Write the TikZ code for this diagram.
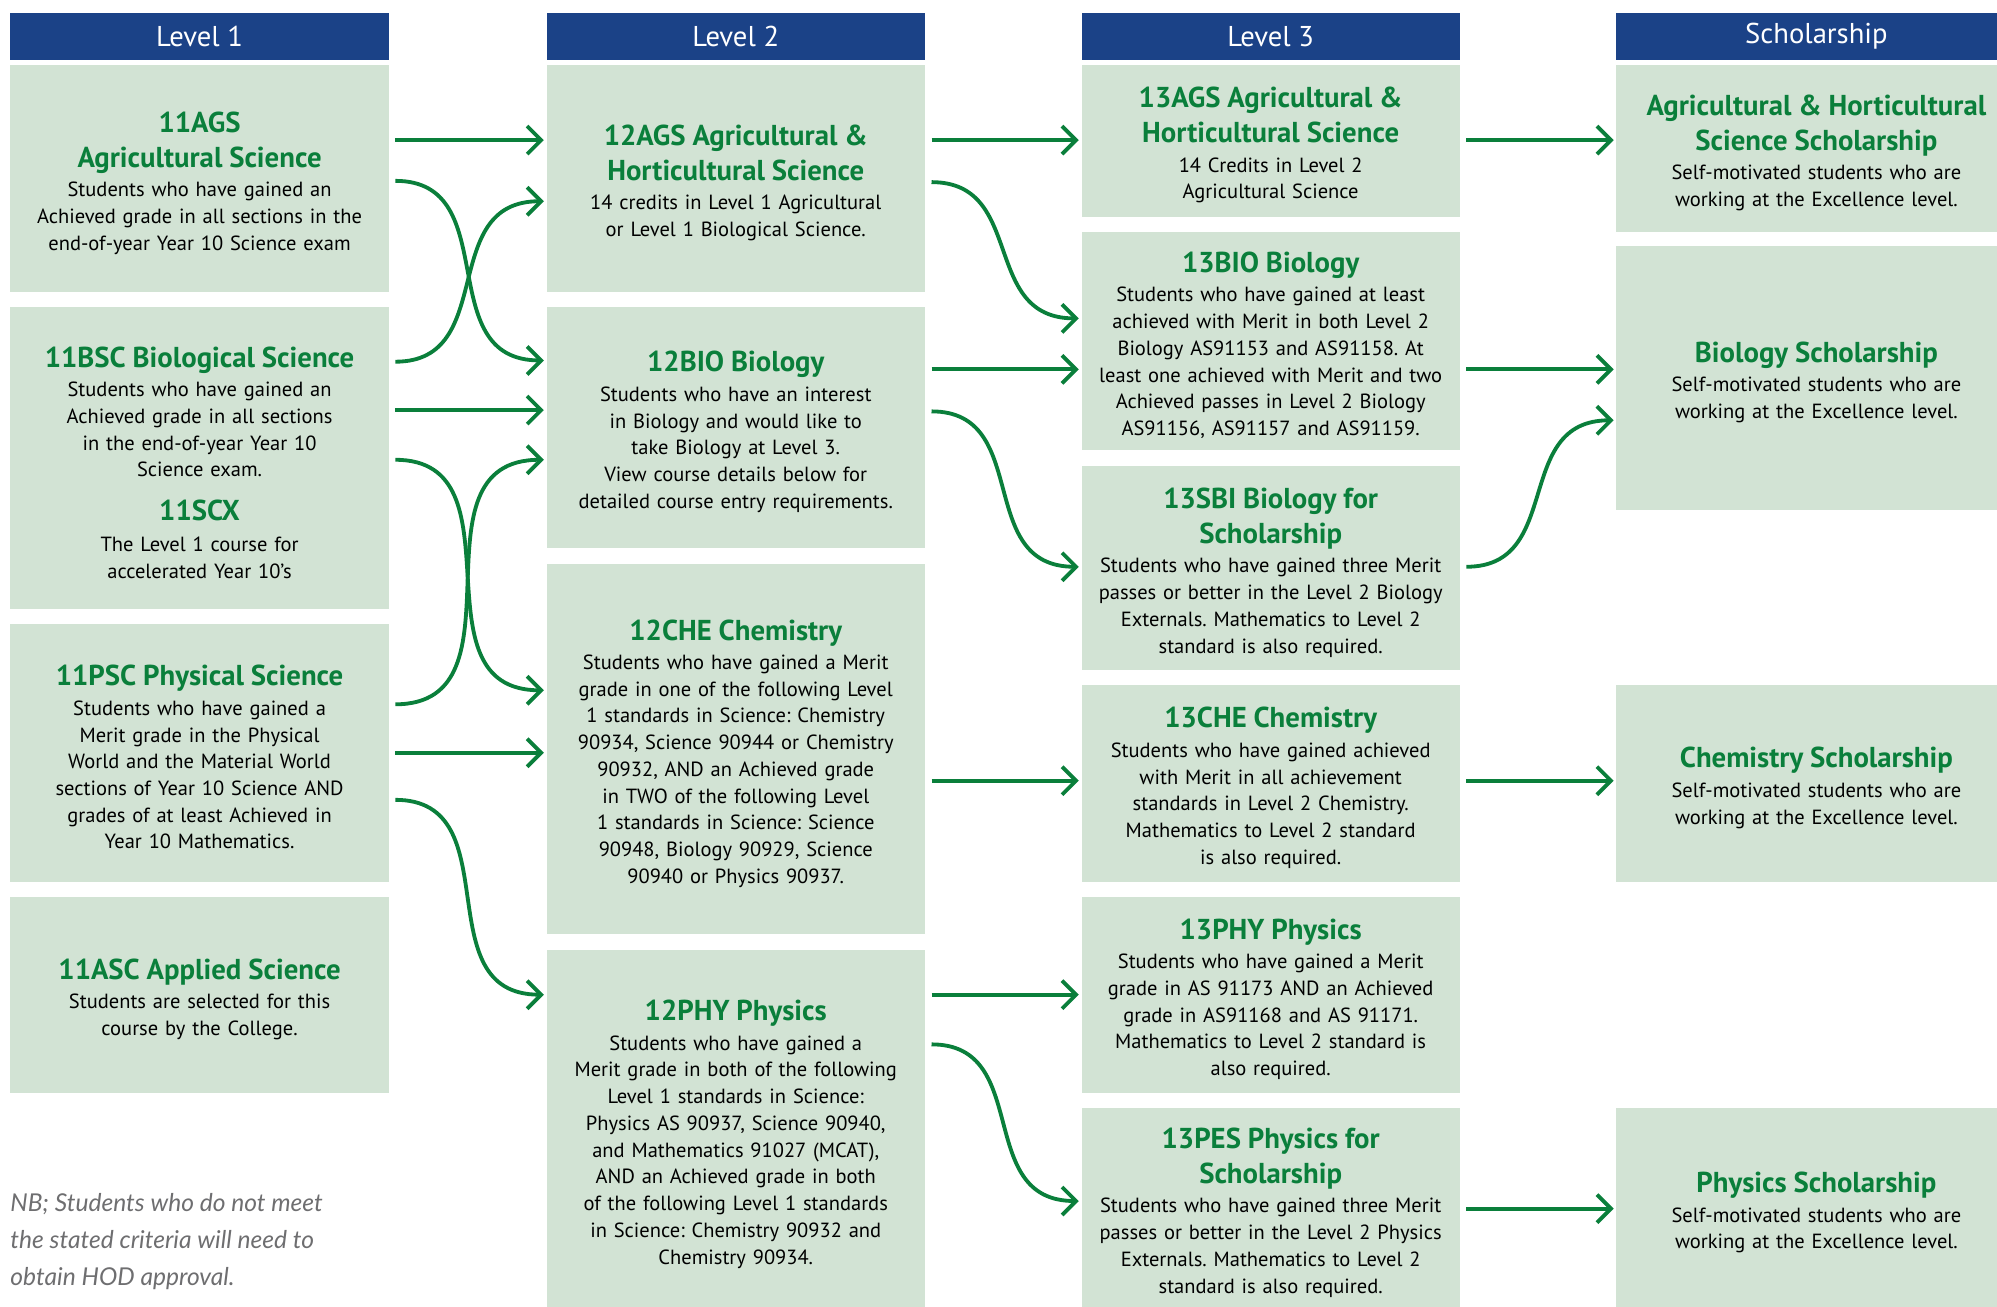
\documentclass[tikz,border=0pt]{standalone}
\usepackage{xcolor}
\usepackage{fontspec}
\setmainfont{PT Sans}
\newfontfamily\nbfont{Lato}
\usepackage{tikz}
\usetikzlibrary{arrows.meta}
\setlength{\parindent}{0pt}
\frenchspacing

\definecolor{hdrblue}{HTML}{1B4287}
\definecolor{boxfill}{HTML}{D2E3D4}
\definecolor{crsgreen}{HTML}{0A7F3B}
\definecolor{nbgrey}{HTML}{6E6E70}

\newcommand{\crstitle}[1]{{\fontsize{22.6}{27.5}\selectfont\bfseries\color{crsgreen}#1\par}\vspace{2pt}}

\tikzset{
  hdr/.style={fill=hdrblue, text=white, anchor=north west, inner sep=0pt,
              minimum width=297pt, minimum height=37pt,
              font=\fontsize{22.5}{25}\selectfont},
  crs/.style={fill=boxfill, anchor=north west, inner xsep=3pt, inner ysep=0pt,
              text width=291pt, minimum height=#1, align=center,
              font=\fontsize{16.1}{21}\selectfont,
              execute at begin node=\rule{0pt}{23pt}},
  wide/.style={text width=308pt, minimum width=314pt},
  flow/.style={draw=crsgreen, line width=3pt, shorten <=5pt, shorten >=2pt,
               -{Straight Barb[length=11pt,width=22pt]}},
  curvy/.style={out=0, in=180, looseness=1.25}
}

\begin{document}
\begin{tikzpicture}[x=1pt,y=-1pt]
  % ------- parameters -------
  \def\CA{8}      % level 1 column
  \def\CB{429}    % level 2 column
  \def\CC{849}    % level 3 column
  \def\CD{1269}   % scholarship column

  \useasboundingbox (0,0) rectangle (1568,1026.2);

  % ------- headers -------
  \node[hdr] (h1) at (\CA,10) {Level 1};
  \node[hdr] (h2) at (\CB,10) {Level 2};
  \node[hdr] (h3) at (\CC,10) {Level 3};
  \node[hdr, minimum width=314pt] (h4) at (\CD,10) {Scholarship};

  % ------- level 1 -------
  \node[crs=178pt] (l1ags) at (\CA,51) {\crstitle{11AGS\\Agricultural Science}
    Students who have gained an\\Achieved grade in all sections in the\\end-of-year Year 10 Science exam};
  \node[crs=237pt] (l1bsc) at (\CA,241) {\crstitle{11BSC Biological Science}
    Students who have gained an\\Achieved grade in all sections\\in the end-of-year Year 10\\Science exam.\par\vspace{7pt}
    \crstitle{11SCX}\vspace{1pt}
    The Level 1 course for\\accelerated Year 10’s};
  \node[crs=202pt] (l1psc) at (\CA,490) {\crstitle{11PSC Physical Science}
    Students who have gained a\\Merit grade in the Physical\\World and the Material World\\sections of Year 10 Science AND\\grades of at least Achieved in\\Year 10 Mathematics.};
  \node[crs=154pt] (l1asc) at (\CA,704) {\crstitle{11ASC Applied Science}
    Students are selected for this\\course by the College.};

  % ------- level 2 -------
  \node[crs=178pt] (l2ags) at (\CB,51) {\crstitle{12AGS Agricultural \&\\Horticultural Science}
    14 credits in Level 1 Agricultural\\or Level 1 Biological Science.};
  \node[crs=189pt] (l2bio) at (\CB,241) {\crstitle{12BIO Biology}
    Students who have an interest\\in Biology and would like to\\take Biology at Level 3.\\View course details below for\\detailed course entry requirements.};
  \node[crs=290pt] (l2che) at (\CB,443) {\crstitle{12CHE Chemistry}
    Students who have gained a Merit\\grade in one of the following Level\\1 standards in Science: Chemistry\\90934, Science 90944 or Chemistry\\90932, AND an Achieved grade\\in TWO of the following Level\\1 standards in Science: Science\\90948, Biology 90929, Science\\90940 or Physics 90937.};
  \node[crs=282pt] (l2phy) at (\CB,746) {\crstitle{12PHY Physics}
    Students who have gained a\\Merit grade in both of the following\\Level 1 standards in Science:\\Physics AS 90937, Science 90940,\\and Mathematics 91027 (MCAT),\\AND an Achieved grade in both\\of the following Level 1 standards\\in Science: Chemistry 90932 and\\Chemistry 90934.};

  % ------- level 3 -------
  \node[crs=119pt] (l3ags) at (\CC,51) {\crstitle{13AGS Agricultural \&\\Horticultural Science}
    14 Credits in Level 2\\Agricultural Science};
  \node[crs=171pt] (l3bio) at (\CC,182) {\crstitle{13BIO Biology}
    Students who have gained at least\\achieved with Merit in both Level 2\\Biology AS91153 and AS91158. At\\least one achieved with Merit and two\\Achieved passes in Level 2 Biology\\AS91156, AS91157 and AS91159.};
  \node[crs=160pt] (l3sbi) at (\CC,366) {\crstitle{13SBI Biology for\\Scholarship}
    Students who have gained three Merit\\passes or better in the Level 2 Biology\\Externals. Mathematics to Level 2\\standard is also required.};
  \node[crs=154pt] (l3che) at (\CC,538) {\crstitle{13CHE Chemistry}
    Students who have gained achieved\\with Merit in all achievement\\standards in Level 2 Chemistry.\\Mathematics to Level 2 standard\\is also required.};
  \node[crs=154pt] (l3phy) at (\CC,704) {\crstitle{13PHY Physics}
    Students who have gained a Merit\\grade in AS 91173 AND an Achieved\\grade in AS91168 and AS 91171.\\Mathematics to Level 2 standard is\\also required.};
  \node[crs=157pt] (l3pes) at (\CC,870) {\crstitle{13PES Physics for\\Scholarship}
    Students who have gained three Merit\\passes or better in the Level 2 Physics\\Externals. Mathematics to Level 2\\standard is also required.};

  % ------- scholarship -------
  \node[crs=131pt, wide] (sags) at (\CD,51) {\crstitle{Agricultural \& Horticultural\\Science Scholarship}
    Self-motivated students who are\\working at the Excellence level.};
  \node[crs=207pt, wide] (sbio) at (\CD,193) {\crstitle{Biology Scholarship}
    Self-motivated students who are\\working at the Excellence level.};
  \node[crs=154pt, wide] (sche) at (\CD,538) {\crstitle{Chemistry Scholarship}
    Self-motivated students who are\\working at the Excellence level.};
  \node[crs=157pt, wide] (sphy) at (\CD,870) {\crstitle{Physics Scholarship}
    Self-motivated students who are\\working at the Excellence level.};

  % ------- note -------
  \node[anchor=north west, inner sep=0pt, align=left, text=nbgrey,
        font=\nbfont\itshape\fontsize{19.3}{29}\selectfont] (nb) at (\CA,937)
        {NB; Students who do not meet\\the stated criteria will need to\\obtain HOD approval.};

  % ------- level 1 to level 2 -------
  \draw[flow] (l1ags.east |- 0,110) -- (l2ags.west |- 0,110);
  \draw[flow] (l1ags.east |- 0,142) to[curvy] (l2bio.west |- 0,283);
  \draw[flow] (l1bsc.east |- 0,284) to[curvy] (l2ags.west |- 0,158);
  \draw[flow] (l1bsc.east |- 0,322) -- (l2bio.west |- 0,322);
  \draw[flow] (l1bsc.east |- 0,361) to[curvy] (l2che.west |- 0,542);
  \draw[flow] (l1psc.east |- 0,553) to[curvy] (l2bio.west |- 0,361);
  \draw[flow] (l1psc.east |- 0,591) -- (l2che.west |- 0,591);
  \draw[flow] (l1psc.east |- 0,628) to[curvy] (l2phy.west |- 0,781);

  % ------- level 2 to level 3 -------
  \draw[flow] (l2ags.east |- 0,110) -- (l3ags.west |- 0,110);
  \draw[flow] (l2ags.east |- 0,143) to[curvy] (l3bio.west |- 0,250);
  \draw[flow] (l2bio.east |- 0,290) -- (l3bio.west |- 0,290);
  \draw[flow] (l2bio.east |- 0,323) to[curvy] (l3sbi.west |- 0,445);
  \draw[flow] (l2che.east |- 0,613) -- (l3che.west |- 0,613);
  \draw[flow] (l2phy.east |- 0,781) -- (l3phy.west |- 0,781);
  \draw[flow] (l2phy.east |- 0,820) to[curvy] (l3pes.west |- 0,943);

  % ------- level 3 to scholarship -------
  \draw[flow] (l3ags.east |- 0,110) -- (sags.west |- 0,110);
  \draw[flow] (l3bio.east |- 0,290) -- (sbio.west |- 0,290);
  \draw[flow] (l3sbi.east |- 0,445) to[curvy] (sbio.west |- 0,330);
  \draw[flow] (l3che.east |- 0,613) -- (sche.west |- 0,613);
  \draw[flow] (l3pes.east |- 0,949) -- (sphy.west |- 0,949);
\end{tikzpicture}
\end{document}
